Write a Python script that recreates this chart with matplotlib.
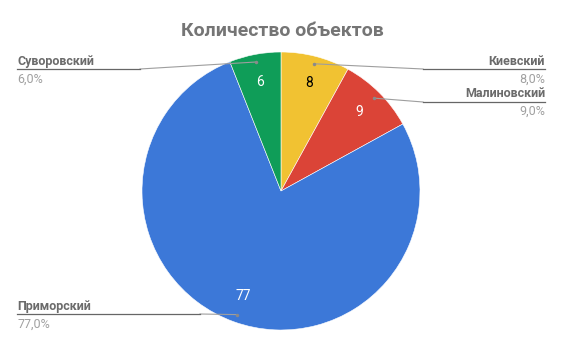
import numpy as np
import matplotlib
matplotlib.use('Agg')
import matplotlib.pyplot as plt

plt.rcParams['font.family'] = ['Roboto', 'DejaVu Sans']

districts = ['Киевский', 'Малиновский', 'Приморский', 'Суворовский']
counts = [8, 9, 77, 6]
colors = ['#f1c232', '#db4437', '#3c78d8', '#0f9d58']
value_colors = ['black', 'white', 'white', 'white']

W, H = 562, 348
fig = plt.figure(figsize=(W / 100, H / 100), dpi=100)
ax = fig.add_axes([0, 0, 1, 1])

cx, cy, R = 281, H - 191, 139
ax.pie(counts, colors=colors, startangle=90, counterclock=False,
       center=(cx, cy), radius=R, frame=True,
       wedgeprops=dict(edgecolor='white', linewidth=0.4))
ax.set_xlim(0, W)
ax.set_ylim(0, H)
ax.axis('off')

ax.text(282, H - 36, 'Количество объектов', ha='center', va='baseline',
        fontsize=14, fontweight='bold', color='#757575')

total = sum(counts)
# (side, elbow x, line y, name baseline, pct baseline) in pixel coords
layout = {
    'Киевский': ('right', 423, 69, 65, 83),
    'Малиновский': ('right', 423, 102, 97, 115),
    'Приморский': ('left', 200, 314, 310, 328),
    'Суворовский': ('left', 140, 69, 65, 83),
}

cum = 0
for name, val, vc in zip(districts, counts, value_colors):
    mid = (cum + val / 2) / total * 2 * np.pi
    cum += val
    sx, sy = np.sin(mid), np.cos(mid)
    # value inside wedge
    ax.text(cx + 0.80 * R * sx, cy + 0.80 * R * sy, str(val), ha='center',
            va='center', fontsize=10, color=vc)
    side, ex, ly, nb, pb = layout[name]
    dx, dy = cx + 0.945 * R * sx, cy + 0.945 * R * sy
    end = 545 if side == 'right' else 17
    ax.plot([dx, ex], [dy, H - ly], color='#9e9e9e', lw=0.8)
    ax.plot([ex, end], [H - ly, H - ly], color='#666666', lw=0.9)
    ax.plot(dx, dy, 'o', ms=2.5, color='#8a8a8a', mec='none')
    ha = 'right' if side == 'right' else 'left'
    ax.text(end, H - nb, name, ha=ha, va='baseline', fontsize=9,
            fontweight='bold', color='#6b6b6b')
    pct = f'{val / total * 100:.1f}%'.replace('.', ',')
    ax.text(end, H - pb, pct, ha=ha, va='baseline', fontsize=9,
            color='#a0a0a0')

fig.savefig('out.png', dpi=100, facecolor='white')
